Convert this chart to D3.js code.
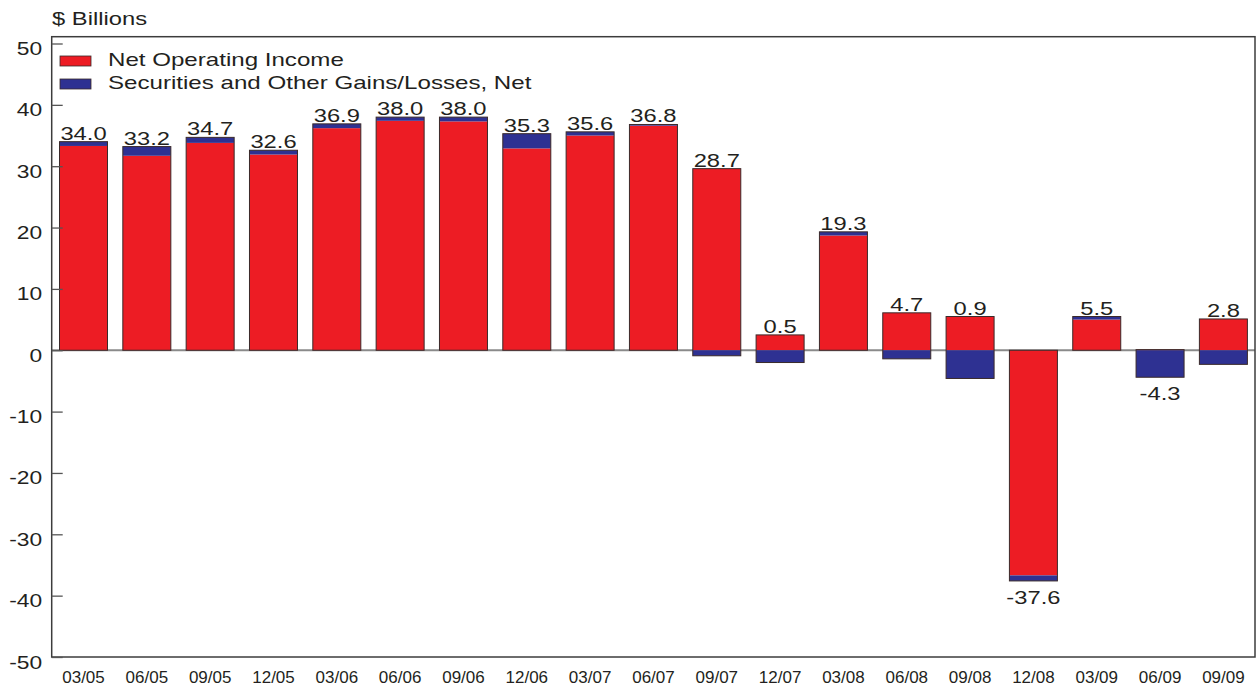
<!DOCTYPE html>
<html>
<head>
<meta charset="utf-8">
<script src="https://cdn.jsdelivr.net/npm/d3@7"></script>
<style>
  html, body { margin: 0; padding: 0; background: #fff; }
  svg { display: block; font-family: "Liberation Sans", Arial, Helvetica, sans-serif; }
</style>
</head>
<body>
<svg id="chart" width="1256" height="690"></svg>
<script>
// Quarter-end labels
const categories = ["03/05","06/05","09/05","12/05","03/06","06/06","09/06","12/06","03/07","06/07",
                    "09/07","12/07","03/08","06/08","09/08","12/08","03/09","06/09","09/09"];
// Net operating income, $ billions
const netOperatingIncome = [33.3, 31.7, 33.8, 31.9, 36.2, 37.4, 37.3, 32.9, 35.0, 36.6,
                            29.6, 2.5, 18.7, 6.1, 5.5, -36.7, 5.0, 0.1, 5.1];
// Securities and other gains/losses, net, $ billions
const securitiesGains = [0.7, 1.5, 0.9, 0.7, 0.7, 0.6, 0.7, 2.4, 0.6, 0.2,
                         -0.9, -2.0, 0.6, -1.4, -4.6, -0.9, 0.5, -4.4, -2.3];
const yTickValues = [-50, -40, -30, -20, -10, 0, 10, 20, 30, 40, 50];
const seriesNames = ["Net Operating Income", "Securities and Other Gains/Losses, Net"];

const RED = "#ed1c24", BLUE = "#2e3192", INK = "#231f20", FRAME = "#3c3c3c";
const WIDE = "scale(1.32,1)";         // wide-set lettering for value labels and title
const LEGEND_WIDE = "scale(1.34,1)";  // legend lettering
const TICK_WIDE = "scale(1.2,1)";     // tick numerals

const frame = { left: 51.7, right: 1255, top: 36.7, bottom: 657 };

const svg = d3.select("#chart");

const rows = categories.map((c, i) => ({ cat: c, noi: netOperatingIncome[i], sec: securitiesGains[i] }));

const x = d3.scaleBand().domain(categories).range([59.5, 1247.4]).paddingInner(0.242).paddingOuter(0);
const y = d3.scaleLinear().domain([-50, 50]).range([frame.bottom, 43.5]);

const stacked = d3.stack().keys(["noi", "sec"]).offset(d3.stackOffsetDiverging)(rows);
const colors = { noi: RED, sec: BLUE };

// zero line
svg.append("line")
  .attr("x1", frame.left).attr("x2", frame.right)
  .attr("y1", y(0)).attr("y2", y(0))
  .attr("stroke", "#8a8a8a").attr("stroke-width", 2);

// stacked segments
svg.append("g").selectAll("g")
  .data(stacked).join("g")
  .attr("fill", d => colors[d.key])
  .selectAll("rect")
  .data(d => d).join("rect")
  .attr("x", d => x(d.data.cat))
  .attr("width", x.bandwidth())
  .attr("y", d => y(Math.max(d[0], d[1])))
  .attr("height", d => Math.abs(y(d[0]) - y(d[1])));

// outline around each whole bar
const extent = rows.map((r, i) => {
  const vals = stacked.flatMap(s => [s[i][0], s[i][1]]);
  return { cat: r.cat, lo: d3.min(vals), hi: d3.max(vals), total: r.noi + r.sec };
});
svg.append("g").selectAll("rect")
  .data(extent).join("rect")
  .attr("x", d => x(d.cat))
  .attr("width", x.bandwidth())
  .attr("y", d => y(d.hi))
  .attr("height", d => y(d.lo) - y(d.hi))
  .attr("fill", "none")
  .attr("stroke", "#3a2a2a").attr("stroke-width", 1);

// value labels: totals above positive bars, below negative ones
svg.append("g").selectAll("text")
  .data(extent).join("text")
  .attr("transform", d => {
    const cx = x(d.cat) + x.bandwidth() / 2;
    const cy = d.total >= 0 ? y(d.hi) - 2 : y(d.lo) + 23;
    return `translate(${cx},${cy}) ${WIDE}`;
  })
  .attr("text-anchor", "middle")
  .attr("font-size", 18)
  .attr("fill", INK)
  .text(d => d.total.toFixed(1));

// frame
svg.append("rect")
  .attr("x", frame.left).attr("y", frame.top)
  .attr("width", frame.right - frame.left).attr("height", frame.bottom - frame.top)
  .attr("fill", "none").attr("stroke", FRAME).attr("stroke-width", 1.5);

// y axis with inward ticks
const yAxis = svg.append("g")
  .attr("transform", `translate(${frame.left},0)`)
  .call(d3.axisLeft(y).tickValues(yTickValues).tickSizeInner(-11).tickSizeOuter(0)
        .tickFormat(d => String(d)));
yAxis.select(".domain").remove();
yAxis.selectAll(".tick line").attr("stroke", "#555").attr("stroke-width", 1.3);
yAxis.selectAll(".tick text")
  .attr("x", null).attr("dy", null)
  .attr("transform", `translate(-9.5,11) ${TICK_WIDE}`)
  .attr("font-size", 19)
  .attr("font-family", "Liberation Sans, Arial, Helvetica, sans-serif")
  .attr("fill", INK);

// x axis labels
const xAxis = svg.append("g")
  .attr("transform", `translate(0,${frame.bottom})`)
  .call(d3.axisBottom(x).tickSize(0));
xAxis.select(".domain").remove();
xAxis.selectAll(".tick text")
  .attr("y", 26).attr("dy", null)
  .attr("font-size", 17)
  .attr("font-family", "Liberation Sans, Arial, Helvetica, sans-serif")
  .attr("fill", INK);

// units title
svg.append("text")
  .attr("transform", `translate(52,25) ${WIDE}`)
  .attr("font-size", 18)
  .attr("fill", INK)
  .text("$ Billions");

// legend
const legend = svg.append("g").selectAll("g")
  .data(seriesNames).join("g")
  .attr("transform", (d, i) => `translate(60,${56 + i * 23})`);
legend.append("rect")
  .attr("width", 31).attr("height", 10)
  .attr("fill", (d, i) => i === 0 ? RED : BLUE)
  .attr("stroke", "#3a2a2a").attr("stroke-width", 0.8);
legend.append("text")
  .attr("transform", `translate(48,10) ${LEGEND_WIDE}`)
  .attr("font-size", 18)
  .attr("fill", INK)
  .text(d => d);
</script>
</body>
</html>
